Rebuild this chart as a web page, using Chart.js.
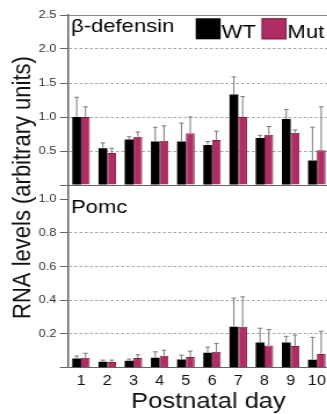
<!DOCTYPE html>
<html>
<head>
<meta charset="utf-8">
<script src="https://cdn.jsdelivr.net/npm/chart.js@4.4.1/dist/chart.umd.min.js"></script>
<style>
html, body { margin:0; padding:0; background:#fff; overflow:hidden; width:327px; height:414px; }
#wrap { position:absolute; left:0; top:0; width:286px; height:414px; transform-origin:0 0; transform:scaleX(1.16); }
</style>
</head>
<body>
<div id="wrap">
  <canvas id="chart" width="286" height="414"></canvas>
</div>
<script>
// postnatal days
var days = ['1', '2', '3', '4', '5', '6', '7', '8', '9', '10'];
var seriesNames = ['WT', 'Mut'];
var panelNames = ['β-defensin', 'Pomc'];
var xTitle = 'Postnatal day';
var yTitle = 'RNA levels (arbitrary units)';

// beta-defensin panel
var defWT     = [1.00, 0.54, 0.67, 0.64, 0.64, 0.59, 1.33, 0.69, 0.97, 0.36];
var defWTErr  = [0.29, 0.08, 0.04, 0.21, 0.27, 0.05, 0.26, 0.04, 0.14, 0.49];
var defMut    = [1.00, 0.47, 0.71, 0.65, 0.76, 0.66, 1.00, 0.74, 0.77, 0.51];
var defMutErr = [0.15, 0.07, 0.07, 0.22, 0.24, 0.13, 0.30, 0.12, 0.04, 0.64];

// Pomc panel
var pomcWT     = [0.055, 0.035, 0.041, 0.059, 0.049, 0.088, 0.243, 0.149, 0.149, 0.047];
var pomcWTErr  = [0.014, 0.010, 0.010, 0.035, 0.026, 0.034, 0.169, 0.085, 0.037, 0.133];
var pomcMut    = [0.059, 0.034, 0.057, 0.071, 0.063, 0.094, 0.243, 0.132, 0.128, 0.081];
var pomcMutErr = [0.027, 0.011, 0.020, 0.033, 0.035, 0.049, 0.177, 0.094, 0.066, 0.135];

// y axis settings per panel (bottom one gets a little headroom as gap)
var defMax = 2.5, defStep = 0.5;
var pomcMax = 1.0, pomcStep = 0.2, pomcHead = 1.083;

var fontFamily = "'Liberation Sans', Arial, Helvetica, sans-serif";
var wtColor = '#000000';
var mutColor = '#b02d64';
var mutBorder = '#7a1f46';

// upward error whiskers
var errorBars = {
    id: 'errorBars',
    afterDatasetsDraw: function (chart) {
        var ctx = chart.ctx;
        ctx.save();
        ctx.strokeStyle = '#7a7a7a';
        ctx.lineWidth = 1;
        chart.data.datasets.forEach(function (ds, i) {
            var meta = chart.getDatasetMeta(i);
            var yScale = chart.scales[meta.yAxisID];
            meta.data.forEach(function (bar, j) {
                var yTop = yScale.getPixelForValue(ds.data[j] + ds.errors[j]);
                ctx.beginPath();
                ctx.moveTo(bar.x, bar.y);
                ctx.lineTo(bar.x, yTop);
                ctx.moveTo(bar.x - 2, yTop);
                ctx.lineTo(bar.x + 2, yTop);
                ctx.stroke();
            });
        });
        ctx.restore();
    }
};

// panel names, legend and axis titles
var labels = {
    id: 'labels',
    afterDraw: function (chart) {
        var ctx = chart.ctx;
        var area = chart.chartArea;
        var yTop = chart.scales.yTop, yBot = chart.scales.yBot;
        ctx.save();
        ctx.fillStyle = '#000';
        ctx.textBaseline = 'alphabetic';
        ctx.textAlign = 'left';
        ctx.font = '19px ' + fontFamily;
        ctx.fillText(panelNames[0], area.left + 2.6, yTop.getPixelForValue(defMax) + 17);
        ctx.fillText(panelNames[1], area.left + 2.6, yBot.getPixelForValue(pomcMax) + 14);

        // legend
        var x = 168.7;
        [0, 1].forEach(function (i) {
            var ds = chart.data.datasets[i];
            ctx.fillStyle = ds.backgroundColor;
            ctx.fillRect(x, 18.3, 21.5, 21);
            if (ds.borderWidth) {
                ctx.strokeStyle = ds.borderColor;
                ctx.lineWidth = 1;
                ctx.strokeRect(x + 0.5, 18.8, 20.5, 20);
            }
            x += 22.3;
            ctx.fillStyle = '#000';
            ctx.fillText(ds.label, x, 38.3);
            x += ctx.measureText(ds.label).width + 5;
        });

        // axis titles
        ctx.fillStyle = '#111';
        ctx.font = '22px ' + fontFamily;
        ctx.textAlign = 'center';
        ctx.fillText(xTitle, 179.7, 408.3);
        ctx.translate(25.9, 187.5);
        ctx.rotate(-Math.PI / 2);
        ctx.fillText(yTitle, 0, 0);
        ctx.restore();
    }
};

function yAxis(max, step, shownMax, weight, solidTop) {
    return {
        type: 'linear',
        position: 'left',
        stack: 'panels',
        stackWeight: weight,
        stacked: false,
        min: 0,
        max: max,
        afterFit: function (s) { s.width = 58.6; },
        afterBuildTicks: function (s) {
            s.ticks = s.ticks.filter(function (t) { return t.value <= shownMax + 1e-6; });
        },
        ticks: {
            stepSize: step,
            includeBounds: false,
            autoSkip: false,
            padding: 3,
            color: '#333',
            font: { family: fontFamily, size: 11 },
            callback: function (v) { return v === 0 ? '' : v.toFixed(1); }
        },
        grid: {
            tickLength: 7,
            tickColor: '#666',
            tickBorderDash: [],
            lineWidth: 1,
            color: function (c) {
                if (!c.tick) return '#999';
                var v = c.tick.value;
                if (v === 0) return '#666';
                if (Math.abs(v - shownMax) < 1e-6) return solidTop ? '#888' : 'rgba(0,0,0,0)';
                return '#a5a5a5';
            }
        },
        border: {
            color: '#666',
            width: 1.5,
            dash: function (c) {
                if (!c.tick) return [];
                var v = c.tick.value;
                return (v > 0 && v < shownMax - 1e-6) ? [2.5, 2] : [];
            }
        }
    };
}

new Chart(document.getElementById('chart'), {
    type: 'bar',
    data: {
        labels: days,
        datasets: [
            { label: seriesNames[0], data: defWT, errors: defWTErr, yAxisID: 'yTop', stack: 'wt',
              backgroundColor: wtColor, borderWidth: 0 },
            { label: seriesNames[1], data: defMut, errors: defMutErr, yAxisID: 'yTop', stack: 'mut',
              backgroundColor: mutColor, borderColor: mutBorder, borderWidth: 1 },
            { label: seriesNames[0], data: pomcWT, errors: pomcWTErr, yAxisID: 'yBot', stack: 'wt',
              backgroundColor: wtColor, borderWidth: 0 },
            { label: seriesNames[1], data: pomcMut, errors: pomcMutErr, yAxisID: 'yBot', stack: 'mut',
              backgroundColor: mutColor, borderColor: mutBorder, borderWidth: 1 }
        ]
    },
    options: {
        responsive: false,
        animation: false,
        layout: { padding: { left: 0, right: 1.5, top: 15, bottom: 24.3 } },
        datasets: { bar: { categoryPercentage: 0.67, barPercentage: 1.0 } },
        scales: {
            x: {
                grid: { display: false, drawTicks: false },
                border: { display: false },
                ticks: { padding: 5, color: '#111', font: { family: fontFamily, size: 14 }, maxRotation: 0 },
                afterFit: function (s) { s.height = 22; }
            },
            // bottom panel first, the later stacked scale is placed on top
            yBot: yAxis(pomcHead, pomcStep, pomcMax, 182.7, false),
            yTop: yAxis(defMax, defStep, defMax, 170, true)
        },
        plugins: {
            legend: { display: false },
            tooltip: { enabled: false }
        }
    },
    plugins: [errorBars, labels]
});
</script>
</body>
</html>
